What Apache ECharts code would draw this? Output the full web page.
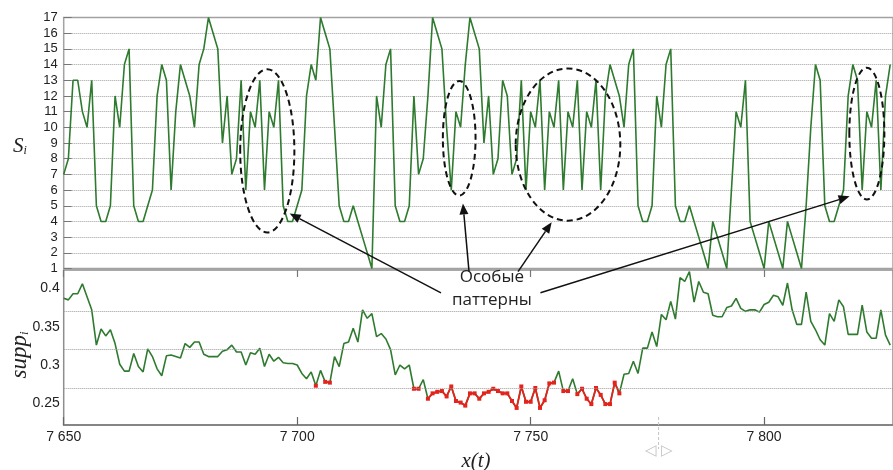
<!DOCTYPE html>
<html><head><meta charset="utf-8">
<script src="https://cdn.jsdelivr.net/npm/echarts@6/dist/echarts.min.js"></script>
<style>html,body{margin:0;padding:0;background:#fff}#c{width:893px;height:470px}</style>
</head><body><div id="c"></div>
<script>
// ---- data ----
const xStart = 7650;                       // first x(t)
const xTickValues = [7650, 7700, 7750, 7800];
const sValues = [
  7, 8, 13, 13, 11, 10, 13, 5, 4, 4,
  5, 12, 10, 14, 15, 5, 4, 4, 5, 6,
  12, 14, 13, 6, 11, 14, 13, 12, 10, 14,
  15, 17, 16, 15, 9, 12, 7, 8, 13, 6,
  11, 10, 13, 6, 11, 10, 13, 5, 4, 4,
  5, 6, 12, 14, 13, 17, 16, 15, 10, 5,
  4, 4, 5, 4, 3, 2, 1, 12, 10, 14,
  15, 5, 4, 4, 5, 12, 7, 8, 12, 17,
  16, 15, 10, 6, 11, 10, 14, 17, 16, 15,
  9, 12, 7, 8, 13, 12, 7, 8, 13, 6,
  11, 10, 13, 6, 11, 10, 13, 6, 11, 10,
  13, 6, 11, 10, 13, 6, 12, 14, 13, 12,
  10, 14, 15, 5, 4, 4, 5, 12, 10, 14,
  15, 5, 4, 4, 5, 4, 3, 2, 1, 4,
  3, 2, 1, 6, 11, 10, 13, 4, 3, 2,
  1, 4, 3, 2, 1, 4, 3, 2, 1, 5,
  10, 14, 13, 5, 4, 4, 5, 6, 12, 14,
  13, 6, 11, 10, 13, 6, 12, 14
];
const suppValues = [
  .387, .385, .393, .393, .406, .389, .372, .326, .347, .338,
  .346, .328, .301, .292, .292, .315, .298, .291, .321, .311,
  .295, .286, .312, .313, .311, .309, .328, .323, .330, .330,
  .314, .311, .311, .311, .318, .320, .326, .317, .317, .300,
  .316, .314, .322, .298, .314, .305, .310, .303, .302, .302,
  .300, .289, .282, .291, .273, .293, .278, .277, .311, .298,
  .328, .330, .348, .330, .372, .361, .367, .337, .341, .334,
  .320, .287, .300, .295, .300, .269, .269, .281, .256, .263,
  .265, .266, .259, .272, .253, .251, .247, .263, .263, .256,
  .263, .265, .269, .266, .263, .263, .253, .244, .272, .252,
  .252, .270, .244, .254, .276, .277, .292, .266, .266, .282,
  .262, .269, .256, .249, .270, .261, .249, .249, .277, .263,
  .288, .289, .305, .289, .322, .322, .343, .324, .366, .359,
  .383, .360, .414, .409, .422, .382, .409, .395, .393, .365,
  .363, .363, .375, .377, .387, .374, .370, .372, .372, .369,
  .379, .382, .391, .389, .378, .407, .372, .353, .353, .395,
  .357, .346, .333, .326, .367, .357, .385, .376, .340, .340,
  .340, .378, .343, .335, .335, .372, .339, .326
];
// x(t) ranges drawn in red in the lower panel
const redRanges = [[7704, 7704], [7706, 7707], [7725, 7726], [7728, 7755], [7757, 7758], [7760, 7769]];
const suppTickValues = [0.25, 0.3, 0.35, 0.4];
const suppGridValues = [0.272, 0.322, 0.373];
// annotation geometry in data units of the upper panel
const ellipses = [ // [t centre, S centre, t radius, S radius]
  [7693.6, 8.5, 5.8, 5.2],
  [7734.7, 9.3, 3.5, 3.65],
  [7758.0, 8.9, 11.2, 4.85],
  [7822.0, 9.6, 3.75, 4.2]
];
const arrows = [ // [tail t, tail S, tip t, tip S]
  [7730.8, -0.55, 7698.4, 4.5],
  [7736.8, 0.8, 7735.5, 5.15],
  [7747.3, 0.8, 7754.5, 3.95],
  [7752.1, -0.55, 7818.3, 5.6]
];
const noteLines = [['Особые', 7741.7, 0.43], ['паттерны', 7741.7, -1.04]];
const cursorMark = 7777.4;

// ---- chart ----
const xs = sValues.map((_, i) => xStart + i);
const isRed = x => redRanges.some(r => x >= r[0] && x <= r[1]);
const GREEN = '#2e7a2e', RED = '#e3231c';
const xMin = 7650, xMax = 7827.6;
const fmtX = v => (v % 50 === 0) ? String(v).replace(/\B(?=(\d{3})+(?!\d))/g, ' ') : '';
const LABEL = {color: '#222', fontSize: 14, fontFamily: 'Liberation Sans'};

const chart = echarts.init(document.getElementById('c'), null, {renderer: 'canvas'});
chart.setOption({
  animation: false,
  backgroundColor: '#fff',
  grid: [
    {left: 63.7, top: 17.5, right: -2, height: 251, show: true, borderColor: '#a3a3a3', borderWidth: 1.5},
    {left: 63.7, top: 270, right: -2, height: 155, show: true, borderColor: '#8e8e8e', borderWidth: 1.5}
  ],
  xAxis: [
    {type: 'value', gridIndex: 0, min: xMin, max: xMax, interval: 50,
     axisLabel: {show: false}, axisTick: {show: false}, axisLine: {show: false}, splitLine: {show: false}},
    {type: 'value', gridIndex: 1, position: 'bottom', min: xMin, max: xMax, interval: 50,
     axisLabel: Object.assign({formatter: fmtX, margin: 5, showMaxLabel: false}, LABEL),
     axisTick: {show: true, inside: true, length: 8, lineStyle: {color: '#666', width: 1.2}},
     axisLine: {show: true, lineStyle: {color: '#858585', width: 1.8}}, splitLine: {show: false}},
    {type: 'value', gridIndex: 1, position: 'top', min: xMin, max: xMax, interval: 50,
     axisLabel: {show: false},
     axisTick: {show: true, inside: true, length: 7, lineStyle: {color: '#777', width: 1.2}},
     axisLine: {show: false}, splitLine: {show: false}}
  ],
  yAxis: [
    {type: 'value', gridIndex: 0, min: 1, max: 17, interval: 1,
     axisLabel: Object.assign({margin: 6}, LABEL, {fontSize: 13}),
     axisTick: {show: true, inside: true, length: 8, lineStyle: {color: '#777'}},
     axisLine: {show: false},
     splitLine: {show: true, lineStyle: {type: 'dotted', color: '#a0a0a0', width: 1}}},
    {type: 'value', gridIndex: 1, min: 0.2217, max: 0.424,
     axisLabel: Object.assign({margin: 4, customValues: suppTickValues,
       formatter: v => String(+(+v).toFixed(2))}, LABEL),
     axisTick: {show: false}, axisLine: {show: false}, splitLine: {show: false}}
  ],
  series: [
    {type: 'line', xAxisIndex: 0, yAxisIndex: 0, data: xs.map((x, i) => [x, sValues[i]]),
     symbol: 'none', lineStyle: {color: GREEN, width: 1.6}, z: 3},
    {type: 'line', xAxisIndex: 1, yAxisIndex: 1, data: [], silent: true, z: 1,
     markLine: {silent: true, symbol: 'none', label: {show: false},
       lineStyle: {type: 'dotted', color: '#9a9a9a', width: 1},
       data: suppGridValues.map(v => ({yAxis: v}))}},
    {type: 'line', xAxisIndex: 1, yAxisIndex: 1, data: xs.map((x, i) => [x, suppValues[i]]),
     symbol: 'none', lineStyle: {color: GREEN, width: 1.6}, z: 3},
    {type: 'line', xAxisIndex: 1, yAxisIndex: 1,
     data: xs.map((x, i) => isRed(x) ? [x, suppValues[i]] : [x, '-']),
     connectNulls: false, symbol: 'rect', symbolSize: 4, showSymbol: true, showAllSymbol: true,
     itemStyle: {color: RED}, lineStyle: {color: RED, width: 1.8}, z: 4}
  ]
});

// ---- annotations, positioned through the axes ----
const P = (t, v) => chart.convertToPixel({gridIndex: 0}, [t, v]);
const graphics = [];
ellipses.forEach(e => {
  const c = P(e[0], e[1]);
  const rx = Math.abs(P(e[0] + e[2], e[1])[0] - c[0]);
  const ry = Math.abs(P(e[0], e[1] + e[3])[1] - c[1]);
  graphics.push({type: 'ellipse', shape: {cx: c[0], cy: c[1], rx: rx, ry: ry}, z: 20,
    style: {fill: null, stroke: '#111', lineWidth: 2, lineDash: [6, 4]}});
});
arrows.forEach(a => {
  const p0 = P(a[0], a[1]), p1 = P(a[2], a[3]);
  const dx = p1[0] - p0[0], dy = p1[1] - p0[1], L = Math.hypot(dx, dy);
  const ux = dx / L, uy = dy / L, hl = 11, hw = 4.5;
  const bx = p1[0] - ux * hl, by = p1[1] - uy * hl;
  graphics.push({type: 'line', shape: {x1: p0[0], y1: p0[1], x2: bx, y2: by}, z: 20,
    style: {stroke: '#111', lineWidth: 1.5}});
  graphics.push({type: 'polygon', z: 20, shape: {points: [[p1[0], p1[1]],
    [bx - uy * hw, by + ux * hw], [bx + uy * hw, by - ux * hw]]}, style: {fill: '#111'}});
});
noteLines.forEach(n => {
  const p = P(n[1], n[2]);
  graphics.push({type: 'text', x: p[0], y: p[1], z: 21,
    style: {text: n[0], font: '17px "Open Sans"', fill: '#222', align: 'center', verticalAlign: 'middle'}});
});
const cm = chart.convertToPixel({gridIndex: 1}, [cursorMark, 0.2217]);
graphics.push({type: 'line', shape: {x1: cm[0], y1: cm[1] - 8, x2: cm[0], y2: cm[1] + 24}, z: 5,
  style: {stroke: '#c4c4c4', lineWidth: 1, lineDash: [3, 2]}});
graphics.push({type: 'text', x: cm[0], y: cm[1] + 26, z: 5,
  style: {text: '◁ ▷', font: '15px "DejaVu Sans"', fill: '#c4c4c4', align: 'center', verticalAlign: 'middle'}});
// axis titles
graphics.push({type: 'text', x: 20, y: 145, z: 21, style: {
  text: '{a|S}{b|i}', align: 'center', verticalAlign: 'middle',
  rich: {a: {font: 'italic 21px "Liberation Serif"', fill: '#222', lineHeight: 24, verticalAlign: 'bottom'},
         b: {font: 'italic 12px "Liberation Serif"', fill: '#222', lineHeight: 20, verticalAlign: 'bottom'}}}});
graphics.push({type: 'text', x: 18, y: 355, rotation: Math.PI / 2, z: 21, style: {
  text: '{a|supp}{b|i}', align: 'center', verticalAlign: 'middle',
  rich: {a: {font: 'italic 23px "Liberation Serif"', fill: '#222', lineHeight: 26, verticalAlign: 'bottom'},
         b: {font: 'italic 13px "Liberation Serif"', fill: '#222', lineHeight: 20, verticalAlign: 'bottom'}}}});
graphics.push({type: 'text', x: 476, y: 461, z: 21, style: {
  text: 'x(t)', font: 'italic 21px "Liberation Serif"', fill: '#222', align: 'center', verticalAlign: 'middle'}});
chart.setOption({graphic: graphics});
</script></body></html>
